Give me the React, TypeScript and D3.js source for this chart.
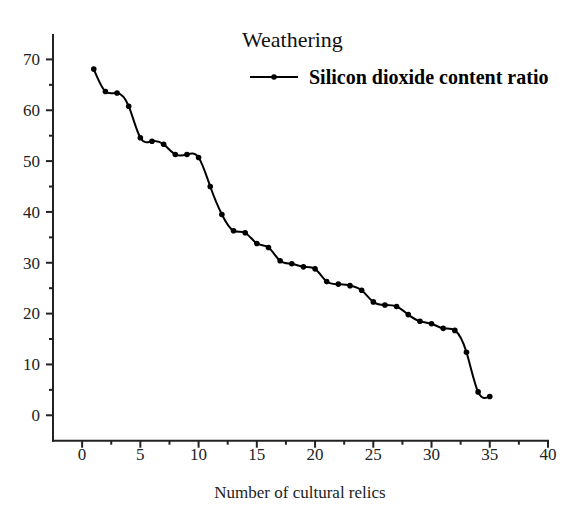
import React from "react";
import * as d3 from "d3";

const relicIndex: number[] = Array.from({ length: 35 }, (_, i) => i + 1);
const sio2Values: number[] = [
  68.1, 63.7, 63.4, 60.8, 54.6, 53.9, 53.3, 51.3, 51.3, 50.7, 45.0, 39.5, 36.3,
  35.9, 33.8, 33.0, 30.4, 29.8, 29.2, 28.8, 26.3, 25.8, 25.5, 24.6, 22.3, 21.7,
  21.4, 19.8, 18.5, 18.0, 17.1, 16.7, 12.4, 4.6, 3.7,
];
const xMajorTicks: number[] = [0, 5, 10, 15, 20, 25, 30, 35, 40];
const xMinorTicks: number[] = [2.5, 7.5, 12.5, 17.5, 22.5, 27.5, 32.5, 37.5];
const yMajorTicks: number[] = [0, 10, 20, 30, 40, 50, 60, 70];
const yMinorTicks: number[] = [5, 15, 25, 35, 45, 55, 65];
const chartTitle = "Weathering";
const seriesName = "Silicon dioxide content ratio";
const xAxisTitle = "Number of cultural relics";

const W = 573;
const H = 506;
const FONT = "'Liberation Serif', 'Times New Roman', serif";

export default function App() {
  const x = d3.scaleLinear().domain([-2.5, 40]).range([53, 548]);
  const y = d3.scaleLinear().domain([-5, 75]).range([440.7, 34]);
  const pts = relicIndex.map((d, i) => [d, sio2Values[i]] as [number, number]);
  const line = d3
    .line<[number, number]>()
    .x((d) => x(d[0]))
    .y((d) => y(d[1]))
    .curve(d3.curveNatural);
  const axisColor = "#222";
  const x0 = x.range()[0];
  const yb = y.range()[0];
  return (
    <svg
      width={W}
      height={H}
      style={{ position: "absolute", left: 0, top: 0, background: "#fff" }}
      fontFamily={FONT}
    >
      <rect width={W} height={H} fill="#fff" />
      {/* Y axis */}
      <line x1={x0} x2={x0} y1={y.range()[1]} y2={yb + 1} stroke={axisColor} strokeWidth={2} />
      {yMajorTicks.map((t) => (
        <g key={"ym" + t}>
          <line x1={x0 - 7} x2={x0} y1={y(t)} y2={y(t)} stroke={axisColor} strokeWidth={2} />
          <text x={40} y={y(t) + 5.8} textAnchor="end" fontSize={17} fill="#222">
            {t}
          </text>
        </g>
      ))}
      {yMinorTicks.map((t) => (
        <line key={"yn" + t} x1={x0 - 4} x2={x0} y1={y(t)} y2={y(t)} stroke={axisColor} strokeWidth={2} />
      ))}
      {/* X axis */}
      <line x1={x0 - 1} x2={x.range()[1] + 1} y1={yb} y2={yb} stroke={axisColor} strokeWidth={2} />
      {xMajorTicks.map((t) => (
        <g key={"xm" + t}>
          <line x1={x(t)} x2={x(t)} y1={yb} y2={yb + 7} stroke={axisColor} strokeWidth={2} />
          <text x={x(t)} y={459.5} textAnchor="middle" fontSize={17} fill="#222">
            {t}
          </text>
        </g>
      ))}
      {xMinorTicks.map((t) => (
        <line key={"xn" + t} x1={x(t)} x2={x(t)} y1={yb} y2={yb + 4} stroke={axisColor} strokeWidth={2} />
      ))}
      <text x={300} y={498} textAnchor="middle" fontSize={17} fill="#222">
        {xAxisTitle}
      </text>
      {/* Series */}
      <path d={line(pts) || ""} fill="none" stroke="#000" strokeWidth={2} />
      {pts.map((p, i) => (
        <circle key={i} cx={x(p[0])} cy={y(p[1])} r={2.8} fill="#000" />
      ))}
      {/* Title */}
      <text x={242} y={46.5} fontSize={22} fill="#111">
        {chartTitle}
      </text>
      {/* Legend */}
      <line x1={250} x2={298} y1={77} y2={77} stroke="#000" strokeWidth={2} />
      <circle cx={274} cy={77} r={2.8} fill="#000" />
      <text x={309} y={84} fontSize={20} fontWeight="bold" fill="#000">
        {seriesName}
      </text>
    </svg>
  );
}
